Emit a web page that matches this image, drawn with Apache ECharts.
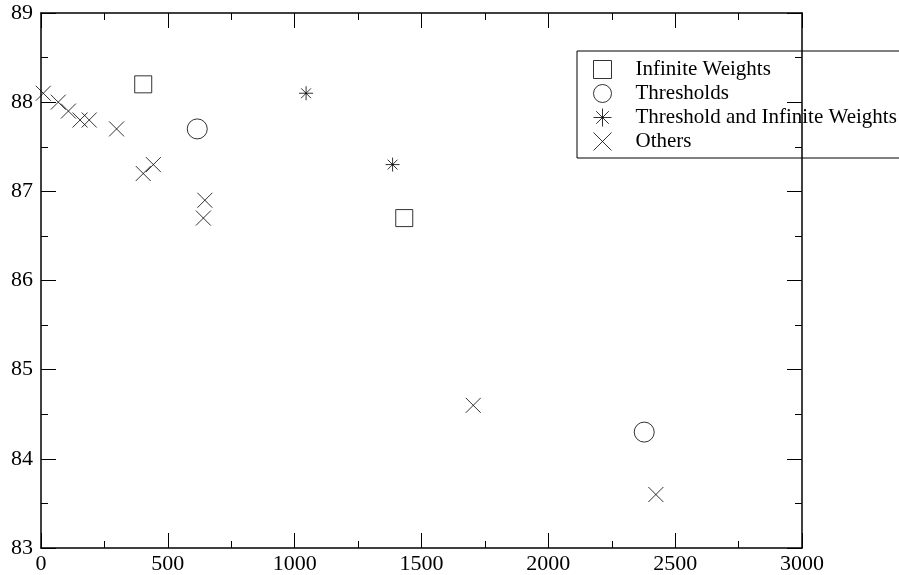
<!DOCTYPE html>
<html>
<head>
<meta charset="utf-8">
<script src="https://cdn.jsdelivr.net/npm/echarts@6/dist/echarts.min.js"></script>
<style>
  html, body { margin: 0; padding: 0; background: #fff; }
  #chart { width: 899px; height: 575px; }
</style>
</head>
<body>
<div id="chart"></div>
<script>
// 数据
const infiniteWeights = [[403, 88.2], [1432, 86.7]];
const thresholds = [[616, 87.7], [2378, 84.3]];
const thresholdAndInfinite = [[1045, 88.1], [1386, 87.3]];
const others = [
    [9, 88.1], [68, 88.0], [108, 87.9], [154, 87.8], [190, 87.8],
    [298, 87.7], [403, 87.2], [443, 87.3], [646, 86.9], [640, 86.7],
    [1704, 84.6], [2424, 83.6]
];
const seriesNames = ['Infinite Weights', 'Thresholds', 'Threshold and Infinite Weights', 'Others'];

const crossPath = 'path://M0,0L10,10M10,0L0,10';
const starPath = 'path://M5,0L5,10M0,5L10,5M1.5,1.5L8.5,8.5M8.5,1.5L1.5,8.5';

const font = 'Liberation Serif';
const stroke = { color: 'none', borderColor: '#000', borderWidth: 1 };

const myChart = echarts.init(document.getElementById('chart'), null, { renderer: 'canvas' });

const axisCommon = {
    axisLine: { show: true, onZero: false, lineStyle: { color: '#000', width: 1.5 } },
    axisTick: { show: true, inside: true, length: 15, lineStyle: { color: '#000', width: 1 } },
    minorTick: { show: true, splitNumber: 2, length: 7, lineStyle: { color: '#000', width: 1 } },
    splitLine: { show: false },
    minorSplitLine: { show: false }
};

myChart.setOption({
    animation: false,
    backgroundColor: '#fff',
    grid: { left: 41, top: 13, right: 97, bottom: 27, containLabel: false },
    legend: {
        orient: 'vertical',
        left: 577,
        top: 51,
        borderColor: '#000',
        borderWidth: 1,
        borderRadius: 0,
        padding: [7, 60, 5, 14],
        itemWidth: 18,
        itemHeight: 18,
        itemGap: 1,
        itemStyle: stroke,
        textStyle: { fontFamily: font, fontSize: 21, color: '#000', padding: [0, 0, 0, 19], lineHeight: 19 },
        data: seriesNames
    },
    xAxis: [
        Object.assign({
            type: 'value', min: 0, max: 3000, interval: 500, position: 'bottom',
            axisLabel: { fontFamily: font, fontSize: 22, color: '#000', margin: 5, formatter: (v) => String(v) }
        }, axisCommon),
        Object.assign({
            type: 'value', min: 0, max: 3000, interval: 500, position: 'top',
            axisLabel: { show: false }
        }, axisCommon)
    ],
    yAxis: [
        Object.assign({
            type: 'value', min: 83, max: 89, interval: 1, position: 'left',
            axisLabel: { fontFamily: font, fontSize: 22, color: '#000', margin: 8 }
        }, axisCommon),
        Object.assign({
            type: 'value', min: 83, max: 89, interval: 1, position: 'right',
            axisLabel: { show: false }
        }, axisCommon)
    ],
    series: [
        {
            name: seriesNames[0], type: 'scatter', symbol: 'rect', symbolSize: 17,
            itemStyle: stroke, data: infiniteWeights
        },
        {
            name: seriesNames[1], type: 'scatter', symbol: 'circle', symbolSize: 20,
            itemStyle: stroke, data: thresholds
        },
        {
            name: seriesNames[2], type: 'scatter', symbol: starPath, symbolSize: 14,
            itemStyle: stroke, data: thresholdAndInfinite
        },
        {
            name: seriesNames[3], type: 'scatter', symbol: crossPath, symbolSize: 15,
            itemStyle: stroke, data: others
        }
    ]
});
</script>
</body>
</html>
